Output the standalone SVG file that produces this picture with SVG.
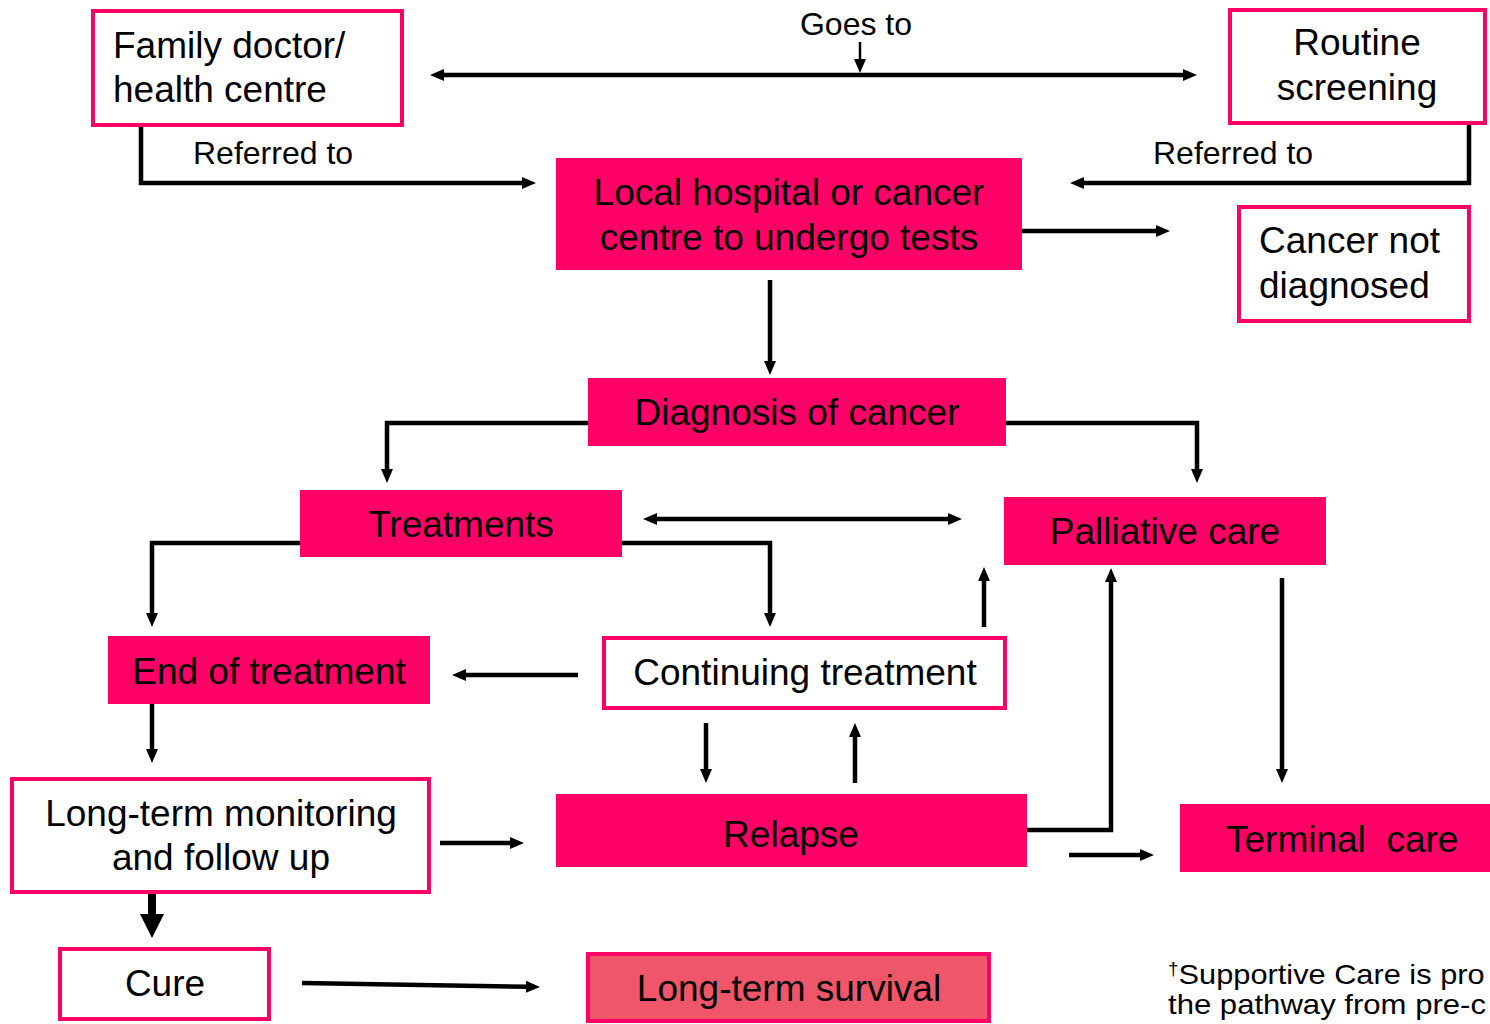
<svg xmlns="http://www.w3.org/2000/svg" width="1490" height="1024" viewBox="0 0 1490 1024">
<defs>
<style>
.t{font-family:"Liberation Sans",Arial,sans-serif;font-size:37px;fill:#000}
.s{font-family:"Liberation Sans",Arial,sans-serif;font-size:32px;fill:#000}
.f{font-family:"Liberation Sans",Arial,sans-serif;font-size:28px;fill:#000}
.fill{fill:#FF0066}
.out{fill:#fff;stroke:#FF0066;stroke-width:4}
.c{fill:none;stroke:#000;stroke-width:4.5;marker-end:url(#ah)}
.d{marker-start:url(#ah)}
</style>
<marker id="ah" viewBox="0 0 14 12" refX="2" refY="6" markerWidth="14" markerHeight="12" markerUnits="userSpaceOnUse" orient="auto-start-reverse">
<path d="M0,0 L14,6 L0,12 z" fill="#000"/>
</marker>
<marker id="big" viewBox="0 0 24 24" refX="2" refY="12" markerWidth="24" markerHeight="24" markerUnits="userSpaceOnUse" orient="auto">
<path d="M0,0 L24,12 L0,24 z" fill="#000"/>
</marker>
</defs>
<rect width="1490" height="1024" fill="#fff"/>

<g id="connectors">
<path class="c d" d="M442,75 H1185"/>
<path class="c" style="stroke-width:2.5" d="M860,42 V61"/>
<path class="c" d="M141,127 V183 H524"/>
<path class="c" d="M1469,125 V183 H1082"/>
<path class="c" d="M1022,231 H1158"/>
<path class="c" d="M770,280 V363"/>
<path class="c" d="M588,423 H387 V471"/>
<path class="c" d="M1006,423 H1197 V471"/>
<path class="c d" d="M655,519 H950"/>
<path class="c" d="M300,543 H152 V615"/>
<path class="c" d="M622,543 H770 V615"/>
<path class="c" d="M578,675 H464"/>
<path class="c" d="M984,627 V579"/>
<path class="c" d="M152,704 V751"/>
<path class="c" d="M440,843 H512"/>
<path class="c" d="M706,723 V771"/>
<path class="c" d="M855,783 V735"/>
<path class="c" d="M1027,830 H1111 V580"/>
<path class="c" d="M1282,578 V771"/>
<path class="c" d="M1069,855 H1142"/>
<path fill="none" stroke="#000" stroke-width="8" marker-end="url(#big)" d="M152,894 V916"/>
<path class="c" d="M302,983 L528,986.8"/>
</g>

<g id="family-doctor">
<rect class="out" x="93" y="11" width="309" height="114"/>
<text class="t" x="113" y="58">Family doctor/</text>
<text class="t" x="113" y="102">health centre</text>
</g>
<g id="goes-to-label"><text class="s" x="856" y="35" text-anchor="middle">Goes to</text></g>
<g id="routine-screening">
<rect class="out" x="1230" y="10" width="255" height="113"/>
<text class="t" x="1357" y="55" text-anchor="middle">Routine</text>
<text class="t" x="1357" y="100" text-anchor="middle">screening</text>
</g>
<g id="referred-labels">
<text class="s" x="193" y="164">Referred to</text>
<text class="s" x="1153" y="164">Referred to</text>
</g>
<g id="local-hospital">
<rect class="fill" x="556" y="158" width="466" height="112"/>
<text class="t" x="789" y="205" text-anchor="middle">Local hospital or cancer</text>
<text class="t" x="789" y="250" text-anchor="middle">centre to undergo tests</text>
</g>
<g id="cancer-not-diagnosed">
<rect class="out" x="1239" y="207" width="230" height="114"/>
<text class="t" x="1259" y="253">Cancer not</text>
<text class="t" x="1259" y="298">diagnosed</text>
</g>
<g id="diagnosis">
<rect class="fill" x="588" y="378" width="418" height="68"/>
<text class="t" x="797" y="425" text-anchor="middle">Diagnosis of cancer</text>
</g>
<g id="treatments">
<rect class="fill" x="300" y="490" width="322" height="67"/>
<text class="t" x="461" y="537" text-anchor="middle">Treatments</text>
</g>
<g id="palliative-care">
<rect class="fill" x="1004" y="497" width="322" height="68"/>
<text class="t" x="1165" y="544" text-anchor="middle">Palliative care</text>
</g>
<g id="end-of-treatment">
<rect class="fill" x="108" y="636" width="322" height="68"/>
<text class="t" x="269" y="684" text-anchor="middle">End of treatment</text>
</g>
<g id="continuing-treatment">
<rect class="out" x="604" y="638" width="401" height="70"/>
<text class="t" x="805" y="685" text-anchor="middle">Continuing treatment</text>
</g>
<g id="long-term-monitoring">
<rect class="out" x="12" y="779" width="417" height="113"/>
<text class="t" x="221" y="826" text-anchor="middle">Long-term monitoring</text>
<text class="t" x="221" y="870" text-anchor="middle">and follow up</text>
</g>
<g id="relapse">
<rect class="fill" x="556" y="794" width="471" height="73"/>
<text class="t" x="791" y="847" text-anchor="middle">Relapse</text>
</g>
<g id="terminal-care">
<rect class="fill" x="1180" y="804" width="330" height="68"/>
<text class="t" x="1226" y="852" xml:space="preserve">Terminal  care</text>
</g>
<g id="cure">
<rect class="out" x="60" y="949" width="209" height="70"/>
<text class="t" x="165" y="996" text-anchor="middle">Cure</text>
</g>
<g id="long-term-survival">
<rect x="588" y="954" width="401" height="67" fill="#F0566A" stroke="#FF0066" stroke-width="4"/>
<text class="t" x="789" y="1001" text-anchor="middle">Long-term survival</text>
</g>
<g id="footnote">
<text class="f" x="1168" y="984"><tspan font-size="19" dy="-9">†</tspan><tspan dy="9" textLength="306" lengthAdjust="spacingAndGlyphs">Supportive Care is pro</tspan></text>
<text class="f" x="1168" y="1014" textLength="318" lengthAdjust="spacingAndGlyphs">the pathway from pre-c</text>
</g>
</svg>
